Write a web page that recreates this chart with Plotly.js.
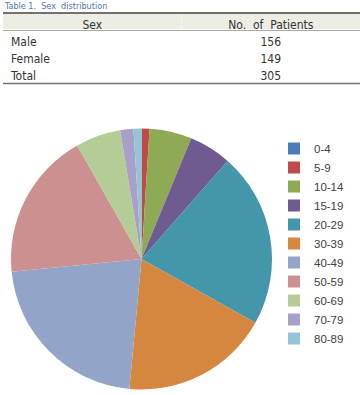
<!DOCTYPE html>
<html>
<head>
<meta charset="utf-8">
<script src="https://cdn.plot.ly/plotly-3.0.1.min.js"></script>
<style>html,body{margin:0;padding:0;background:#fff;}#chart{width:360px;height:395px;}</style>
</head>
<body>
<div id="chart"></div>
<script>
// Table data
const tableTitle = "Table 1.  Sex  distribution";
const tableHeader = ["Sex", "No.  of  Patients"];
const sexCategories = ["Male", "Female", "Total"];
const patientCounts = [156, 149, 305];

// Pie data
const ageGroups = ["0-4","5-9","10-14","15-19","20-29","30-39","40-49","50-59","60-69","70-79","80-89"];
const ageCounts = [0, 3, 16, 16, 66, 56, 67, 56, 17, 5, 3];
const ageColors = ["#4A7EBB","#BE4B48","#8EAA55","#6F5A92","#4496AA","#D5873F","#92A5C9","#CC9090","#B4CC96","#A8A0C9","#93C5D8"];

const W = 360, H = 395;
const px = v => v / W;
const py = v => 1 - v / H;
const tableFont = {family: "DejaVu Sans Condensed, Liberation Sans Narrow, sans-serif", size: 12, color: "#333333"};

const table = {
  type: "table",
  domain: {x: [px(3), 1], y: [py(84), py(12)]},
  columnwidth: [1, 1],
  header: {
    values: tableHeader,
    align: "center",
    fill: {color: "#EDEDE3"},
    line: {color: "#EDEDE3", width: 0},
    font: tableFont,
    height: 17
  },
  cells: {
    values: [sexCategories, patientCounts],
    align: ["left", "center"],
    fill: {color: "#FFFFFF"},
    line: {color: "#FFFFFF", width: 0},
    font: tableFont,
    height: 17
  },
  hoverinfo: "skip"
};

const pie = {
  type: "pie",
  labels: ageGroups,
  values: ageCounts,
  sort: false,
  direction: "clockwise",
  rotation: 0,
  textinfo: "none",
  marker: {colors: ageColors, line: {width: 0}},
  domain: {x: [px(11), px(272)], y: [py(389.5), py(128.5)]},
  showlegend: true
};

const layout = {
  width: W, height: H,
  margin: {l: 0, r: 0, t: 0, b: 0},
  paper_bgcolor: "#FFFFFF",
  showlegend: true,
  legend: {
    x: px(274), xanchor: "left",
    y: py(134), yanchor: "top",
    font: {family: "Liberation Sans, Arial, sans-serif", size: 11.5, color: "#404040"},
    bgcolor: "rgba(0,0,0,0)",
    borderwidth: 0
  },
  annotations: [{
    text: tableTitle, xref: "paper", yref: "paper",
    x: px(3), y: 1, xanchor: "left", yanchor: "top",
    showarrow: false, borderpad: 0,
    font: {family: "DejaVu Sans Condensed, sans-serif", size: 9, color: "#4F75A8"}
  }],
  shapes: [
    {type: "line", xref: "paper", yref: "paper", x0: px(3), x1: 1, y0: py(13), y1: py(13), line: {color: "#707070", width: 2}},
    {type: "line", xref: "paper", yref: "paper", x0: px(3), x1: 1, y0: py(30.5), y1: py(30.5), line: {color: "#A8A8A8", width: 1}},
    {type: "line", xref: "paper", yref: "paper", x0: px(3), x1: 1, y0: py(83.5), y1: py(83.5), line: {color: "#707070", width: 1.5}}
  ]
};

Plotly.newPlot("chart", [table, pie], layout, {displayModeBar: false, staticPlot: true});
</script>
</body>
</html>
